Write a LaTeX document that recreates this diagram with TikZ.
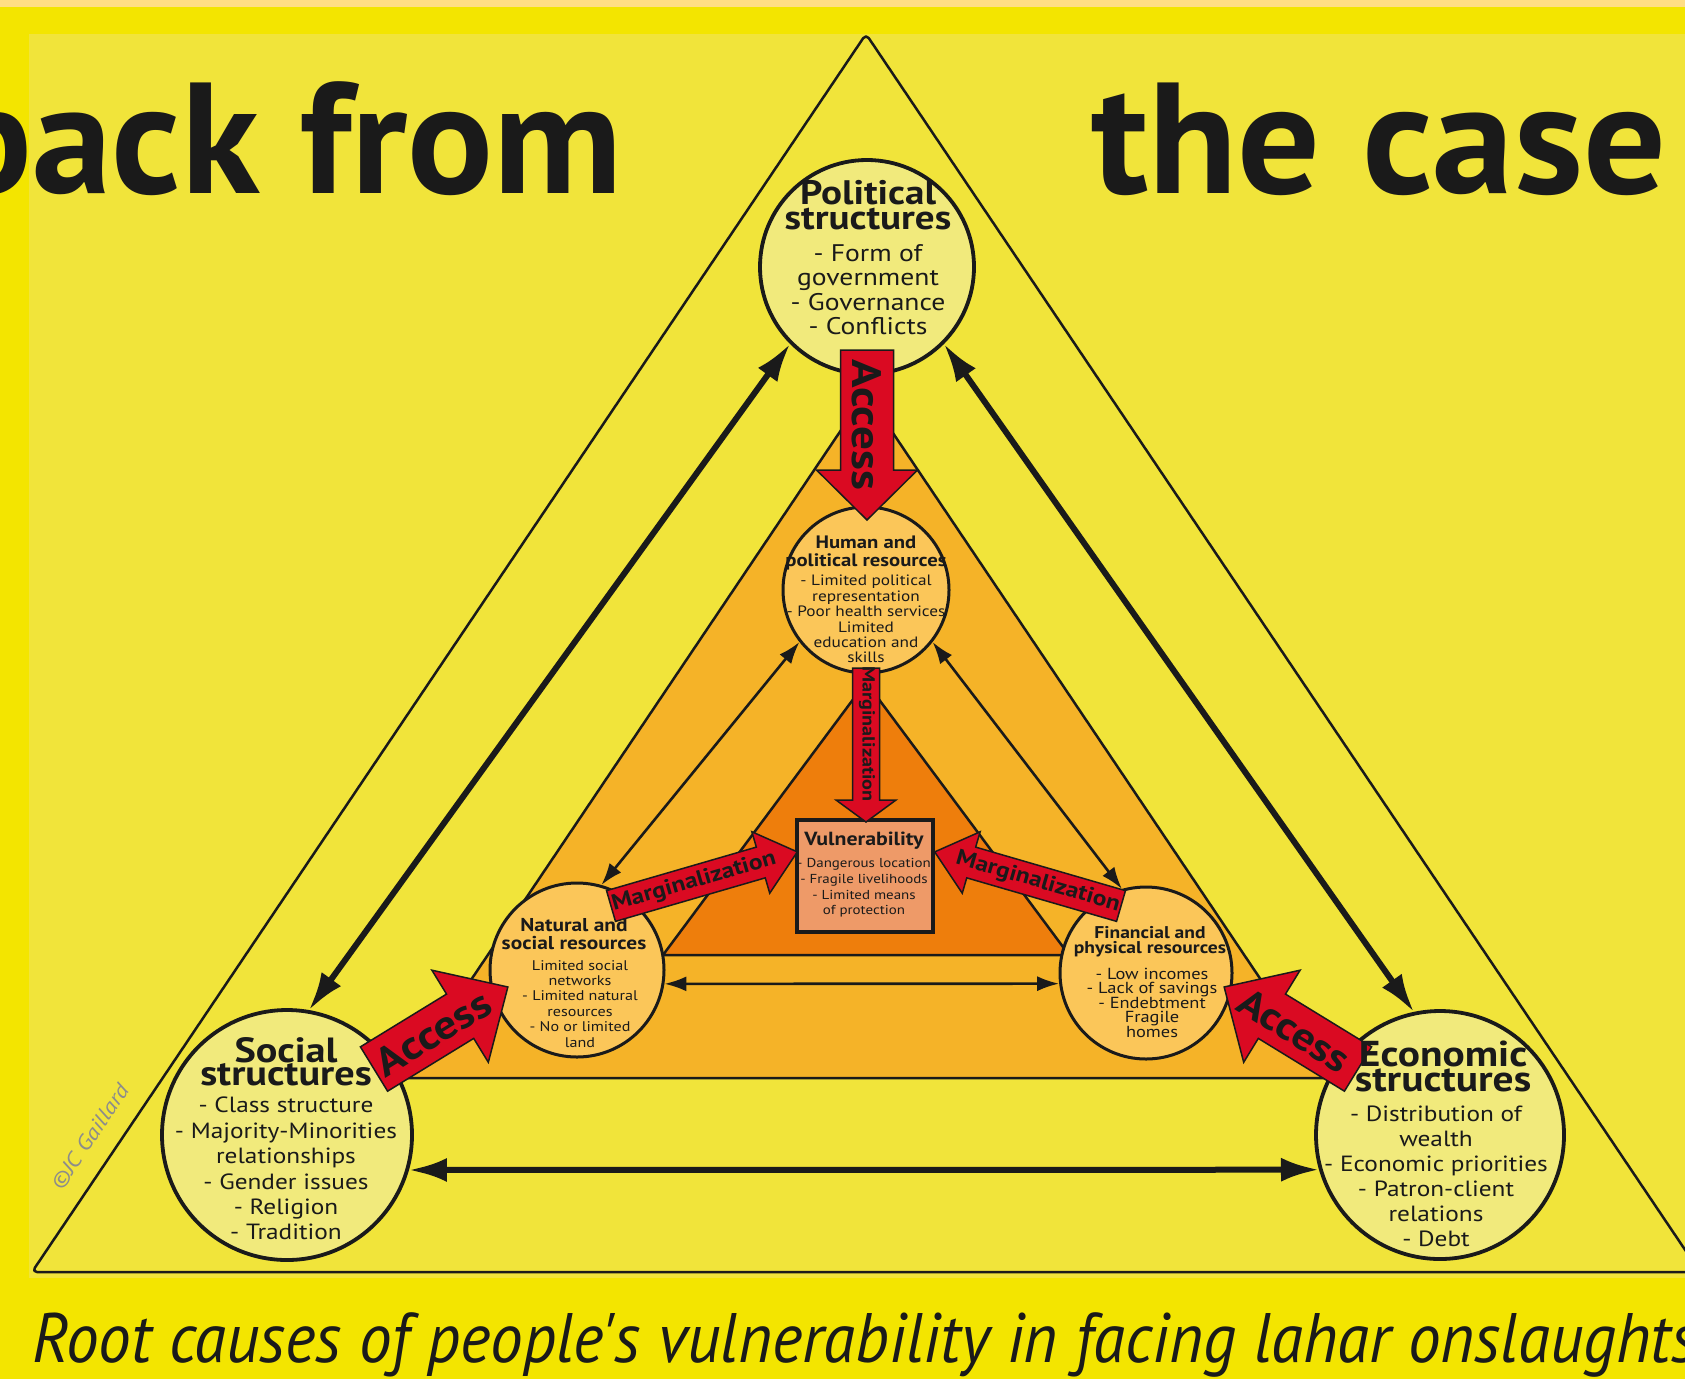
\documentclass[tikz,border=0pt]{standalone}
\usepackage{fontspec}
\setmainfont[FakeStretch=1.15]{PT Sans}
\newfontfamily\plainsans{PT Sans}
\usetikzlibrary{arrows.meta}

\definecolor{bandyellow}{HTML}{F3E500}
\definecolor{topstrip}{HTML}{FFDE85}
\definecolor{panelyellow}{HTML}{F1E43A}
\definecolor{paleyellow}{HTML}{F1EA7C}
\definecolor{midorange}{HTML}{F5B328}
\definecolor{darkorange}{HTML}{EE7E0C}
\definecolor{lightorange}{HTML}{FBC659}
\definecolor{salmon}{HTML}{EE9A68}
\definecolor{arrowred}{HTML}{DA0A22}
\definecolor{ink}{HTML}{1A1A1A}

% red block arrow: tail x, tail y, angle, length, shaft half-width, head half-width, head length, tip name
\newcommand\redblockarrow[8]{%
  \begin{scope}[shift={(#1,#2)}, rotate=#3]
    \draw[redblock] (0,-#5) -- ({#4-#7},-#5) -- ({#4-#7},-#6) -- (#4,0) coordinate (#8)
      -- ({#4-#7},#6) -- ({#4-#7},#5) -- (0,#5) -- cycle;
  \end{scope}}

\tikzset{
  tri/.style={draw=ink, line width=2.5pt, line join=round},
  outercircle/.style={circle, draw=ink, line width=3.8pt, fill=paleyellow, inner sep=0pt},
  innercircle/.style={circle, draw=ink, line width=3pt, fill=lightorange, inner sep=0pt},
  vulnbox/.style={rectangle, draw=ink, line width=3.5pt, fill=salmon, inner sep=0pt},
  bigarrow/.style={draw=ink, line width=6pt,
    {Latex[length=38pt,width=24pt]}-{Latex[length=38pt,width=24pt]}},
  smallarrow/.style={draw=ink, line width=2.6pt,
    {Latex[length=22pt,width=15pt]}-{Latex[length=22pt,width=15pt]}},
  redblock/.style={fill=arrowred, draw=ink, line width=1.5pt, line join=miter},
  txt/.style={align=center, inner sep=0pt, text=ink, anchor=north},
  redlabel/.style={inner sep=0pt, text=ink}
}

\begin{document}
\begin{tikzpicture}[x=1pt, y=-1pt]
\useasboundingbox (0,0) rectangle (1685,1379);

% page background and panel
\fill[bandyellow] (0,0) rectangle (1685,1379);
\fill[topstrip] (0,0) rectangle (1685,7);
\fill[panelyellow] (29,34) rectangle (1685,1278);

% nested triangles
\draw[tri, fill=panelyellow, rounded corners=5pt] (32,1272) -- (866,34) -- (1700,1272) -- cycle;
\draw[tri, fill=midorange] (405,1078) -- (866,393) -- (1327,1078) -- cycle;
\draw[tri, fill=darkorange] (663,955) -- (866,682) -- (1069,955) -- cycle;

% structures
\node[outercircle, minimum size=214pt] (pol) at (867,267) {};
\node[outercircle, minimum size=250pt] (soc) at (287,1135) {};
\node[outercircle, minimum size=248pt] (eco) at (1440,1135) {};

% resources
\node[innercircle, minimum size=166pt] (hum) at (866,590) {};
\node[innercircle, minimum size=174pt] (nat) at (577,970) {};
\node[innercircle, minimum size=172pt] (fin) at (1146,973) {};

% vulnerability
\node[vulnbox, minimum width=136pt, minimum height=112pt] (vul) at (865,876) {};

% links between structures
\draw[bigarrow] (pol.225) -- (soc.80);
\draw[bigarrow] (pol.-45) -- (eco.102);
\draw[bigarrow] (soc.-16) -- (eco.196);

% links between resources
\draw[smallarrow] (hum.218) -- (nat.74);
\draw[smallarrow] (hum.-38) -- (fin.106);
\draw[smallarrow] (nat.-9) -- (fin.187);

% access and marginalization arrows
\redblockarrow{867}{350}{-90}{170}{26.5}{50.5}{50}{acctip-top}
\redblockarrow{374}{1069}{31.5}{157}{26}{54}{56}{acctip-left}
\redblockarrow{1358}{1069}{148.5}{157}{26}{54}{56}{acctip-right}
\redblockarrow{866}{668}{-90}{154}{13.5}{30}{22}{margtip-top}
\redblockarrow{611}{906}{16.2}{194}{16}{32}{38}{margtip-left}
\redblockarrow{1121}{906}{163.8}{194}{16}{32}{38}{margtip-right}

\node[redlabel, font=\fontsize{41}{41}\selectfont\bfseries, rotate=-90] (acc-top) at (867,425) {Access};
\node[redlabel, font=\fontsize{40}{40}\selectfont\bfseries, rotate=31.5] (acc-left) at (433,1033) {Access};
\node[redlabel, font=\fontsize{39}{39}\selectfont\bfseries, rotate=-31.5] (acc-right) at (1294,1030) {Access};
\node[redlabel, font=\fontsize{17.5}{17.5}\selectfont\bfseries, rotate=-90] (marg-top) at (867,734) {Marginalization};
\node[redlabel, font=\fontsize{22}{22}\selectfont\bfseries, rotate=16.2] (marg-left) at (694,882) {Marginalization};
\node[redlabel, font=\fontsize{22}{22}\selectfont\bfseries, rotate=-16.2] (marg-right) at (1038,882) {Marginalization};

% circle texts
\node[txt, font=\fontsize{34}{25}\selectfont\bfseries] (pol-head) at (868,180.5) {Political\\structures};
\node[txt, font=\fontsize{24}{24.5}\selectfont] (pol-items) at (868,244)
  {- Form of\\government\\- Governance\\- Conflicts};

\node[txt, font=\fontsize{35}{22}\selectfont\bfseries] (soc-head) at (286,1037) {Social\\structures};
\node[txt, font=\fontsize{22}{25.4}\selectfont] (soc-items) at (286,1097)
  {- Class structure\\- Majority-Minorities\\relationships\\- Gender issues\\- Religion\\- Tradition};

\node[txt, font=\fontsize{36}{25}\selectfont\bfseries] (eco-head) at (1443,1041) {Economic\\structures};
\node[txt, font=\fontsize{22}{25}\selectfont] (eco-items) at (1436,1106)
  {- Distribution of\\wealth\\- Economic priorities\\- Patron-client\\relations\\- Debt};

\node[txt, font=\fontsize{18}{17.5}\selectfont\bfseries] (hum-head) at (866,536) {Human and\\political resources};
\node[txt, font=\fontsize{15}{15.4}\selectfont] (hum-items) at (866,575)
  {- Limited political\\representation\\- Poor health services\\Limited\\education and\\skills};

\node[txt, font=\fontsize{18.6}{18}\selectfont\bfseries] (nat-head) at (574,918.6) {Natural and\\social resources};
\node[txt, font=\fontsize{14}{15.4}\selectfont] (nat-items) at (580,960)
  {Limited social\\networks\\- Limited natural\\resources\\- No or limited\\land};

\node[txt, font=\fontsize{17}{15.5}\selectfont\bfseries] (fin-head) at (1150,926) {Financial and\\physical resources};
\node[txt, font=\fontsize{16}{14.6}\selectfont] (fin-items) at (1152,967.5)
  {- Low incomes\\- Lack of savings\\- Endebtment\\Fragile\\homes};

\node[txt, font=\fontsize{19}{19}\selectfont\bfseries] (vul-head) at (864,831.3) {Vulnerability};
\node[txt, font=\fontsize{13}{15.6}\selectfont] (vul-items) at (864,858.4)
  {- Dangerous location\\- Fragile livelihoods\\- Limited means\\of protection};

% credit along the outer edge
\node[inner sep=0pt, text=black!45, font=\fontsize{21}{21}\selectfont\itshape, rotate=56] (credit) at (90,1137) {\textcopyright JC Gaillard};

% headline fragments
\node[anchor=base east, inner sep=0pt, text=ink, font=\plainsans\fontsize{158}{158}\selectfont\bfseries] (head-left) at (623,193)
  {\resizebox{676pt}{\height}{back from}};
\node[anchor=base west, inner sep=0pt, text=ink, font=\plainsans\fontsize{158}{158}\selectfont\bfseries] (head-right) at (1091,193)
  {\resizebox{575pt}{\height}{the case}};

% caption
\node[anchor=base west, inner sep=0pt, text=ink, font=\plainsans\fontsize{70}{70}\selectfont\itshape] (caption) at (32,1362)
  {\resizebox{1665pt}{\height}{Root causes of people's vulnerability in facing lahar onslaughts}};
\end{tikzpicture}
\end{document}
